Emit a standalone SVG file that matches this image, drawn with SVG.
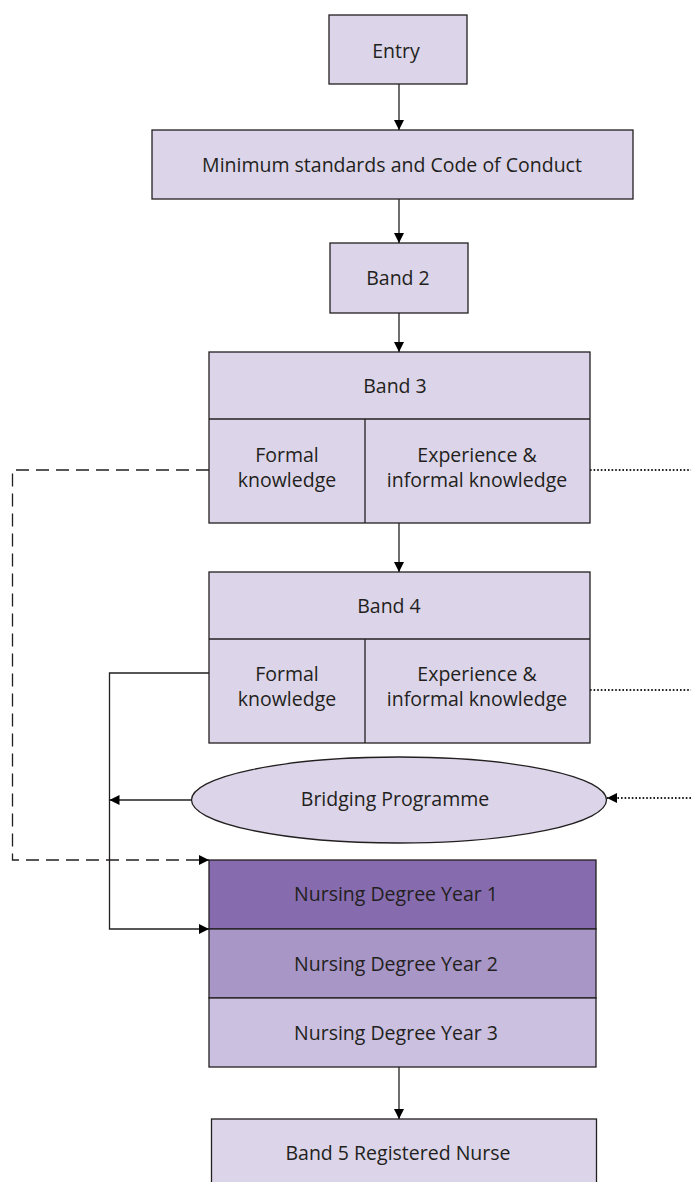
<svg xmlns="http://www.w3.org/2000/svg" width="691" height="1182" viewBox="0 0 691 1182">
<defs>
<style>
.box{fill:#DCD5E9;stroke:#231F20;stroke-width:1.3}
.y1{fill:#866CAF;stroke:#231F20;stroke-width:1.3}
.y2{fill:#A896C6;stroke:#231F20;stroke-width:1.3}
.y3{fill:#CBC0DF;stroke:#231F20;stroke-width:1.3}
.div{stroke:#231F20;stroke-width:1.3;fill:none}
text{font-family:"Open Sans","Noto Sans","Liberation Sans",sans-serif;font-size:19.5px;fill:#231F20;text-anchor:middle}
.ln{stroke:#231F20;stroke-width:1.3;fill:none}
.dash{stroke:#231F20;stroke-width:1.3;fill:none;stroke-dasharray:13 7}
.dot{stroke:#231F20;stroke-width:1.8;fill:none;stroke-dasharray:1.6 2}
</style>
<marker id="ah" viewBox="0 0 10 10" refX="10" refY="5" markerWidth="11" markerHeight="10" markerUnits="userSpaceOnUse" orient="auto">
<path d="M0,0 L10,5 L0,10 Z" fill="#000"/>
</marker>
</defs>

<g id="entry">
<rect class="box" x="329" y="15" width="138" height="69"/>
<text x="396" y="58">Entry</text>
</g>
<g id="minimum">
<rect class="box" x="152" y="130" width="481" height="69"/>
<text x="392" y="172">Minimum standards and Code of Conduct</text>
</g>
<g id="band2">
<rect class="box" x="330" y="243" width="138" height="70"/>
<text x="398" y="285">Band 2</text>
</g>
<g id="band3">
<rect class="box" x="209" y="352" width="381" height="171"/>
<line class="div" x1="209" y1="419" x2="590" y2="419"/>
<line class="div" x1="365" y1="419" x2="365" y2="523"/>
<text x="395" y="393">Band 3</text>
<text x="287" y="462">Formal</text>
<text x="287" y="487">knowledge</text>
<text x="477" y="462">Experience &amp;</text>
<text x="477" y="487">informal knowledge</text>
</g>
<g id="band4">
<rect class="box" x="209" y="572" width="381" height="171"/>
<line class="div" x1="209" y1="639" x2="590" y2="639"/>
<line class="div" x1="365" y1="639" x2="365" y2="743"/>
<text x="389" y="613">Band 4</text>
<text x="287" y="681">Formal</text>
<text x="287" y="706">knowledge</text>
<text x="477" y="681">Experience &amp;</text>
<text x="477" y="706">informal knowledge</text>
</g>
<g id="bridging">
<ellipse class="box" cx="399" cy="800" rx="207.5" ry="43"/>
<text x="395" y="806">Bridging Programme</text>
</g>
<g id="year1">
<rect class="y1" x="209" y="860" width="387" height="69"/>
<text x="396" y="901">Nursing Degree Year 1</text>
</g>
<g id="year2">
<rect class="y2" x="209" y="929" width="387" height="69"/>
<text x="396" y="971">Nursing Degree Year 2</text>
</g>
<g id="year3">
<rect class="y3" x="209" y="998" width="387" height="69"/>
<text x="396" y="1040">Nursing Degree Year 3</text>
</g>
<g id="band5">
<rect class="box" x="211.5" y="1119" width="385" height="80"/>
<text x="398" y="1160">Band 5 Registered Nurse</text>
</g>

<g id="connectors">
<line class="ln" x1="399" y1="84" x2="399" y2="130" marker-end="url(#ah)"/>
<line class="ln" x1="399" y1="199" x2="399" y2="243" marker-end="url(#ah)"/>
<line class="ln" x1="399" y1="313" x2="399" y2="352" marker-end="url(#ah)"/>
<line class="ln" x1="399" y1="523" x2="399" y2="572" marker-end="url(#ah)"/>
<line class="ln" x1="399" y1="1067" x2="399" y2="1119" marker-end="url(#ah)"/>
<polyline class="dash" points="209,470 12.5,470 12.5,860 209,860" marker-end="url(#ah)"/>
<polyline class="ln" points="209,673 109.5,673 109.5,929 209,929" marker-end="url(#ah)"/>
<line class="ln" x1="191.5" y1="800" x2="109.5" y2="800" marker-end="url(#ah)"/>
<line class="dot" x1="590" y1="470" x2="691" y2="470"/>
<line class="dot" x1="590" y1="690" x2="691" y2="690"/>
<line class="dot" x1="691" y1="798" x2="607" y2="798" marker-end="url(#ah)"/>
</g>
</svg>
